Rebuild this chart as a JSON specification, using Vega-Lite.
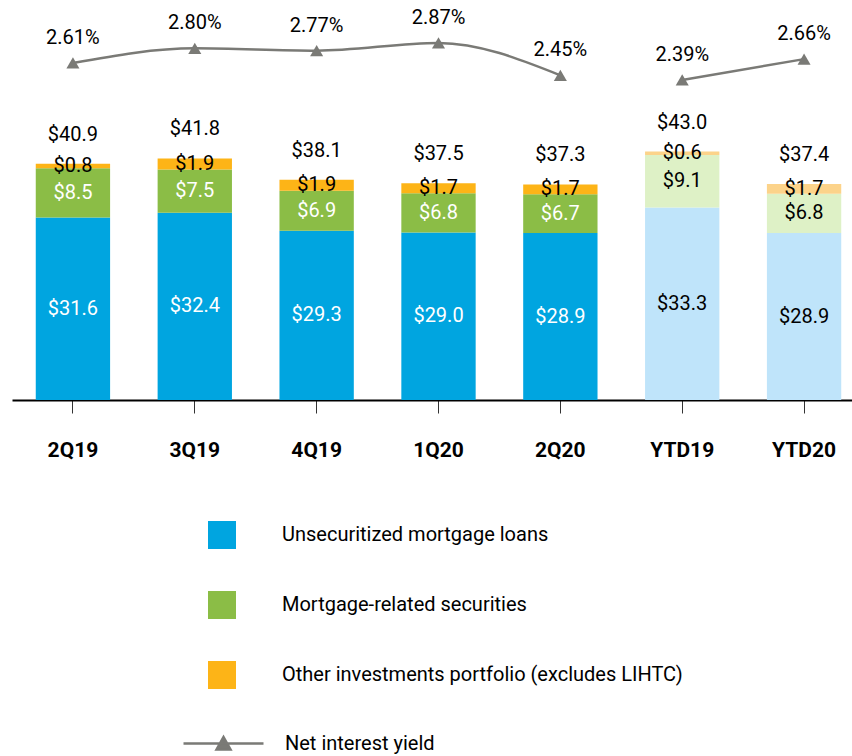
{
  "$schema": "https://vega.github.io/schema/vega-lite/v6.json",
  "autosize": "none",
  "width": 853,
  "height": 390,
  "padding": {"left": 12, "top": 10, "right": 0, "bottom": 356},
  "config": {
    "view": {"stroke": null},
    "font": "Roboto, sans-serif",
    "axisX": {
      "domainColor": "#000000",
      "domainWidth": 2,
      "tickColor": "#333333",
      "tickWidth": 1,
      "tickSize": 13,
      "labelFontSize": 21,
      "labelFontWeight": "bold",
      "labelColor": "#000000",
      "labelPadding": 26,
      "labelAngle": 0,
      "grid": false
    }
  },
  "layer": [
    {
      "data": {
        "values": [
          {"period": "2Q19", "category": "Unsecuritized mortgage loans", "amount": 31.6},
          {"period": "2Q19", "category": "Mortgage-related securities", "amount": 8.5},
          {"period": "2Q19", "category": "Other investments portfolio (excludes LIHTC)", "amount": 0.8},
          {"period": "3Q19", "category": "Unsecuritized mortgage loans", "amount": 32.4},
          {"period": "3Q19", "category": "Mortgage-related securities", "amount": 7.5},
          {"period": "3Q19", "category": "Other investments portfolio (excludes LIHTC)", "amount": 1.9},
          {"period": "4Q19", "category": "Unsecuritized mortgage loans", "amount": 29.3},
          {"period": "4Q19", "category": "Mortgage-related securities", "amount": 6.9},
          {"period": "4Q19", "category": "Other investments portfolio (excludes LIHTC)", "amount": 1.9},
          {"period": "1Q20", "category": "Unsecuritized mortgage loans", "amount": 29.0},
          {"period": "1Q20", "category": "Mortgage-related securities", "amount": 6.8},
          {"period": "1Q20", "category": "Other investments portfolio (excludes LIHTC)", "amount": 1.7},
          {"period": "2Q20", "category": "Unsecuritized mortgage loans", "amount": 28.9},
          {"period": "2Q20", "category": "Mortgage-related securities", "amount": 6.7},
          {"period": "2Q20", "category": "Other investments portfolio (excludes LIHTC)", "amount": 1.7},
          {"period": "YTD19", "category": "Unsecuritized mortgage loans", "amount": 33.3},
          {"period": "YTD19", "category": "Mortgage-related securities", "amount": 9.1},
          {"period": "YTD19", "category": "Other investments portfolio (excludes LIHTC)", "amount": 0.6},
          {"period": "YTD20", "category": "Unsecuritized mortgage loans", "amount": 28.9},
          {"period": "YTD20", "category": "Mortgage-related securities", "amount": 6.8},
          {"period": "YTD20", "category": "Other investments portfolio (excludes LIHTC)", "amount": 1.7}
        ]
      },
      "transform": [
        {"stack": "amount", "groupby": ["period"], "as": ["y0", "y1"]}
      ],
      "layer": [
        {
          "transform": [{"filter": "!test(/^YTD/, datum.period)"}],
          "mark": {"type": "bar"},
          "encoding": {
            "x": {"field": "period", "type": "nominal", "title": null,
                  "scale": {"domain": ["2Q19", "3Q19", "4Q19", "1Q20", "2Q20", "YTD19", "YTD20"], "paddingInner": 0.39, "paddingOuter": 0.195}},
            "y": {"field": "y1", "type": "quantitative", "axis": null, "scale": {"domain": [0, 67.5], "nice": false}},
            "y2": {"field": "y0"},
            "color": {
              "field": "category", "type": "nominal",
              "scale": {
                "domain": ["Unsecuritized mortgage loans", "Mortgage-related securities", "Other investments portfolio (excludes LIHTC)"],
                "range": ["#00A5E0", "#8BBD46", "#FDB417"]
              },
              "legend": {
                "title": null, "orient": "none", "legendX": 196, "legendY": 511,
                "direction": "vertical", "symbolType": "square", "symbolSize": 784,
                "symbolStrokeWidth": 0, "labelFontSize": 20, "labelOffset": 46,
                "rowPadding": 42, "labelColor": "#000000", "labelLimit": 600, "padding": 0
              }
            }
          }
        },
        {
          "transform": [{"filter": "test(/^YTD/, datum.period)"}],
          "mark": {"type": "bar"},
          "encoding": {
            "x": {"field": "period", "type": "nominal", "title": null},
            "y": {"field": "y1", "type": "quantitative", "axis": null},
            "y2": {"field": "y0"},
            "fill": {
              "field": "category", "type": "nominal",
              "scale": {
                "domain": ["Unsecuritized mortgage loans", "Mortgage-related securities", "Other investments portfolio (excludes LIHTC)"],
                "range": ["#BFE4FA", "#DEF1C6", "#FCD38A"]
              },
              "legend": null
            }
          }
        },
        {
          "mark": {"type": "text", "fontSize": 20, "dy": -29, "baseline": "middle", "color": "#000000"},
          "encoding": {
            "x": {"field": "period", "type": "nominal", "title": null},
            "y": {"aggregate": "max", "field": "y1", "type": "quantitative", "axis": null},
            "text": {"aggregate": "max", "field": "y1", "type": "quantitative", "format": "$.1f"}
          }
        },
        {
          "transform": [{"fold": ["y0", "y1"], "as": ["edge", "pos"]}],
          "mark": {"type": "text", "fontSize": 20, "baseline": "middle"},
          "encoding": {
            "x": {"field": "period", "type": "nominal", "title": null},
            "y": {"aggregate": "mean", "field": "pos", "type": "quantitative", "axis": null},
            "text": {"field": "amount", "type": "quantitative", "format": "$.1f"},
            "detail": {"field": "category", "type": "nominal"},
            "color": {
              "condition": {"test": "datum.category === 'Other investments portfolio (excludes LIHTC)' || test(/^YTD/, datum.period)", "value": "#000000"},
              "value": "#FFFFFF"
            }
          }
        }
      ]
    },
    {
      "data": {
        "values": [
          {"period": "2Q19", "yield": 0.0261, "series": "Quarterly"},
          {"period": "3Q19", "yield": 0.0280, "series": "Quarterly"},
          {"period": "4Q19", "yield": 0.0277, "series": "Quarterly"},
          {"period": "1Q20", "yield": 0.0287, "series": "Quarterly"},
          {"period": "2Q20", "yield": 0.0245, "series": "Quarterly"},
          {"period": "YTD19", "yield": 0.0239, "series": "Year to date"},
          {"period": "YTD20", "yield": 0.0266, "series": "Year to date"}
        ]
      },
      "layer": [
        {
          "mark": {"type": "line", "interpolate": "monotone", "strokeWidth": 2.5},
          "encoding": {
            "x": {"field": "period", "type": "nominal", "title": null},
            "y": {"field": "yield", "type": "quantitative", "axis": null, "scale": {"domain": [-0.01767, 0.03298], "nice": false, "zero": false}},
            "detail": {"field": "series", "type": "nominal"},
            "stroke": {
              "datum": "Net interest yield",
              "scale": {"range": ["#7A7A76"]},
              "legend": {
                "title": null, "orient": "none", "legendX": 170, "legendY": 692,
                "symbolType": "M-1,0H1M-0.175,0.15L0,-0.16L0.175,0.15Z",
                "symbolSize": 6400, "symbolStrokeWidth": 2.5, "symbolFillColor": "#7A7A76",
                "labelFontSize": 20, "labelOffset": 20, "labelColor": "#000000",
                "labelLimit": 600, "padding": 0
              }
            }
          }
        },
        {
          "mark": {"type": "point", "shape": "triangle-up", "filled": true, "size": 170, "color": "#7A7A76", "opacity": 1},
          "encoding": {
            "x": {"field": "period", "type": "nominal", "title": null},
            "y": {"field": "yield", "type": "quantitative", "axis": null}
          }
        },
        {
          "mark": {"type": "text", "fontSize": 20, "dy": -25, "baseline": "middle", "color": "#000000"},
          "encoding": {
            "x": {"field": "period", "type": "nominal", "title": null},
            "y": {"field": "yield", "type": "quantitative", "axis": null},
            "text": {"field": "yield", "type": "quantitative", "format": ".2%"}
          }
        }
      ]
    }
  ],
  "resolve": {"scale": {"y": "independent"}}
}
